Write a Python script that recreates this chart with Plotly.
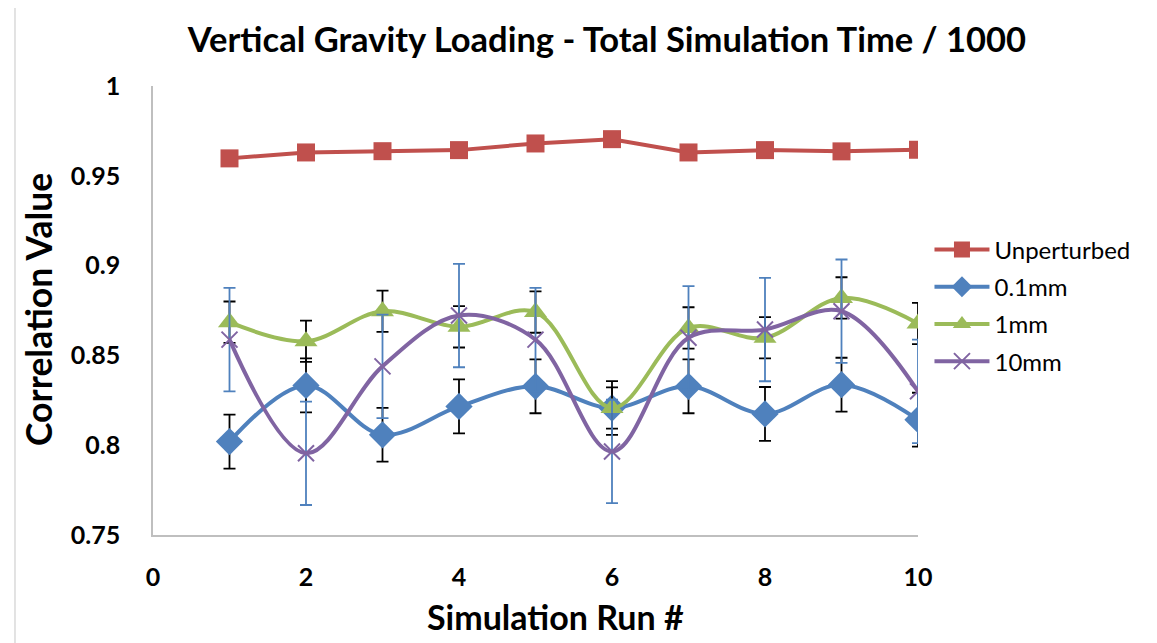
import plotly.graph_objects as go

runs = [1, 2, 3, 4, 5, 6, 7, 8, 9, 10]
unperturbed = [0.9597, 0.963, 0.9637, 0.9643, 0.968, 0.9704, 0.963, 0.9643, 0.9636, 0.9645]
mm01 = [0.802, 0.8333, 0.8058, 0.8216, 0.8328, 0.8207, 0.8328, 0.8174, 0.8337, 0.8142]
mm01_err = [0.015] * 10
mm1 = [0.8685, 0.8579, 0.8746, 0.8659, 0.8741, 0.8207, 0.8653, 0.8598, 0.882, 0.8678]
mm1_err = [0.0115] * 10
mm10 = [0.8588, 0.7955, 0.8439, 0.8722, 0.8588, 0.7965, 0.8598, 0.8644, 0.8746, 0.830]
mm10_err = [0.0288] * 10

x_ticks = [0, 2, 4, 6, 8, 10]
y_ticks = [0.75, 0.8, 0.85, 0.9, 0.95, 1.0]
y_ticktext = ["0.75", "0.8", "0.85", "0.9", "0.95", "1"]

RED = "#C0504D"
BLUE = "#4F81BD"
GREEN = "#9BBB59"
PURPLE = "#8064A2"
FONT = "Lato"

fig = go.Figure()
fig.add_trace(go.Scatter(
    x=runs, y=unperturbed, name="Unperturbed", mode="lines+markers", legendgroup="a",
    line=dict(color=RED, width=4),
    marker=dict(symbol="square", size=18, color=RED),
))
fig.add_trace(go.Scatter(
    x=runs, y=mm01, name="0.1mm", mode="lines+markers", legendgroup="b",
    line=dict(color=BLUE, width=4, shape="spline", smoothing=1),
    marker=dict(symbol="diamond", size=21, color=BLUE),
    error_y=dict(type="data", array=mm01_err, color="black", thickness=1.8, width=6),
))
fig.add_trace(go.Scatter(
    x=runs, y=mm1, name="1mm", mode="lines+markers", legendgroup="c",
    line=dict(color=GREEN, width=4, shape="spline", smoothing=1),
    marker=dict(symbol="triangle-up", size=20, color=GREEN),
    error_y=dict(type="data", array=mm1_err, color="black", thickness=1.8, width=6),
))
fig.add_trace(go.Scatter(
    x=runs, y=mm10, name="10mm", mode="lines+markers", legendgroup="d",
    line=dict(color=PURPLE, width=4, shape="spline", smoothing=1),
    marker=dict(symbol="x-thin", size=16, color=PURPLE, line=dict(color=PURPLE, width=2)),
    error_y=dict(type="data", array=mm10_err, color=BLUE, thickness=1.8, width=6),
))

fig.update_layout(
    width=1157, height=643,
    paper_bgcolor="white", plot_bgcolor="white",
    margin=dict(l=145, r=247, t=78, b=116, autoexpand=False),
    title=dict(text="<b>Vertical Gravity Loading - Total Simulation Time / 1000</b>",
               x=0.5177, xanchor="center", y=0.950, yanchor="middle",
               font=dict(family=FONT, size=34.5, color="black")),
    font=dict(family=FONT, color="black"),
    legend=dict(x=1.015, y=0.685, xanchor="left", yanchor="top",
                font=dict(family=FONT, size=24, color="black"),
                tracegroupgap=3, itemwidth=55, bgcolor="rgba(0,0,0,0)"),
    showlegend=True,
    shapes=[dict(type="line", xref="paper", yref="paper",
                 x0=-0.1804, x1=-0.1804, y0=-0.30, y1=1.25,
                 line=dict(color="#D9D9D9", width=1.5))],
    annotations=[
        dict(text="<b>Simulation Run #</b>", xref="paper", yref="paper",
             x=0.5255, y=-0.1826, xanchor="center", yanchor="middle", showarrow=False,
             font=dict(family=FONT, size=34, color="black")),
        dict(text="<b>Correlation Value</b>", xref="paper", yref="paper",
             x=-0.1503, y=0.501, xanchor="center", yanchor="middle", showarrow=False,
             textangle=-90, font=dict(family=FONT, size=35.5, color="black")),
    ],
)
fig.update_xaxes(
    range=[0, 10], tickvals=x_ticks, ticktext=[str(v) for v in x_ticks],
    showgrid=False, zeroline=False, showline=True, linecolor="#BFBFBF", linewidth=1.5,
    ticks="", ticklabelstandoff=19,
    tickfont=dict(family=FONT, size=25, color="black", weight="bold"),
)
fig.update_yaxes(
    range=[0.75, 1.0], tickvals=y_ticks, ticktext=y_ticktext,
    showgrid=False, zeroline=False, showline=True, linecolor="#BFBFBF", linewidth=1.5,
    ticks="", ticklabelstandoff=26,
    tickfont=dict(family=FONT, size=25, color="black", weight="bold"),
)

fig.write_html("out.html")
